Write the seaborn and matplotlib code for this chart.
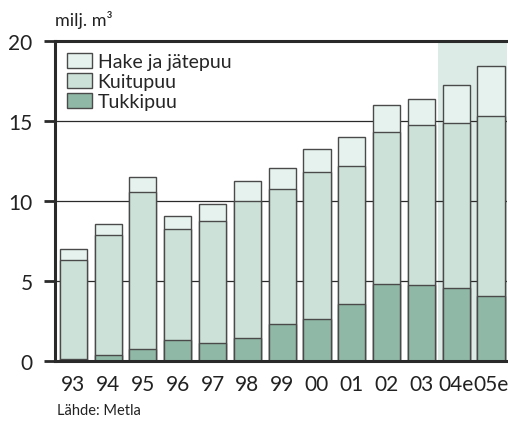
import pandas as pd
import matplotlib
matplotlib.use("Agg")
import matplotlib.pyplot as plt
import matplotlib.patches as mpatches
import seaborn as sns

years = ["93", "94", "95", "96", "97", "98", "99", "00", "01", "02", "03", "04e", "05e"]
tukkipuu = [0.15, 0.35, 0.75, 1.35, 1.15, 1.45, 2.3, 2.65, 3.55, 4.85, 4.75, 4.55, 4.05]
kuitupuu = [6.15, 7.55, 9.85, 6.9, 7.6, 8.55, 8.45, 9.15, 8.65, 9.5, 10.0, 10.35, 11.25]
hake = [0.7, 0.7, 0.9, 0.85, 1.05, 1.25, 1.3, 1.45, 1.8, 1.65, 1.65, 2.35, 3.15]
yticks = [0, 5, 10, 15, 20]

c_tukki = "#8fb8a6"
c_kuitu = "#cce2d9"
c_hake = "#e6f2ee"
c_shade = "#dcebe5"
edge = "#4a4a4a"
dark = "#2a2a2a"

df = pd.DataFrame({"vuosi": years, "tukki": tukkipuu, "kuitu": kuitupuu, "hake": hake})
df["kuitu_cum"] = df["tukki"] + df["kuitu"]
df["total"] = df["kuitu_cum"] + df["hake"]

sns.set_style("white")
plt.rcParams["font.family"] = ["Lato", "DejaVu Sans"]

fig = plt.figure(figsize=(5.08, 4.27), dpi=100)
ax = fig.add_axes([0.108, 0.152, 0.890, 0.749])

# estimate years shaded
ax.axvspan(10.48, 12.6, color=c_shade, zorder=0, lw=0)
for v in yticks[1:-1]:
    ax.axhline(v, color=dark, lw=0.9, zorder=0.5)

for col, c in [("total", c_hake), ("kuitu_cum", c_kuitu), ("tukki", c_tukki)]:
    sns.barplot(data=df, x="vuosi", y=col, color=c, width=0.78, ax=ax,
                edgecolor=edge, linewidth=1.0, saturation=1, zorder=2)

ax.set_xlim(-0.53, 12.46)
ax.set_ylim(0, 20)
ax.set_yticks(yticks)
ax.set_xlabel("")
ax.set_ylabel("")
ax.tick_params(axis="y", direction="out", length=8, width=2, color=dark,
               labelsize=15, pad=8, labelcolor="#222222", left=True)
ax.tick_params(axis="x", length=0, labelsize=15, pad=9, labelcolor="#222222")

for s in ["left", "bottom", "top"]:
    ax.spines[s].set_visible(True)
    ax.spines[s].set_color(dark)
    ax.spines[s].set_linewidth(2.2)
    ax.spines[s].set_zorder(5)
ax.spines["right"].set_visible(False)

handles = [mpatches.Patch(facecolor=c, edgecolor=edge, lw=1.0) for c in (c_hake, c_kuitu, c_tukki)]
ax.legend(handles, ["Hake ja jätepuu", "Kuitupuu", "Tukkipuu"], loc="upper left",
          bbox_to_anchor=(0.0, 1.0), frameon=False, fontsize=14, handlelength=1.3,
          handleheight=0.8, handletextpad=0.3, labelspacing=0.15, borderaxespad=0.2)

fig.text(0.108, 0.952, "milj. m³", fontsize=13, color="#222222", va="center", ha="left")
fig.text(0.112, 0.038, "Lähde: Metla", fontsize=10.5, color="#222222", va="center", ha="left")

fig.savefig("out.png", dpi=100)
